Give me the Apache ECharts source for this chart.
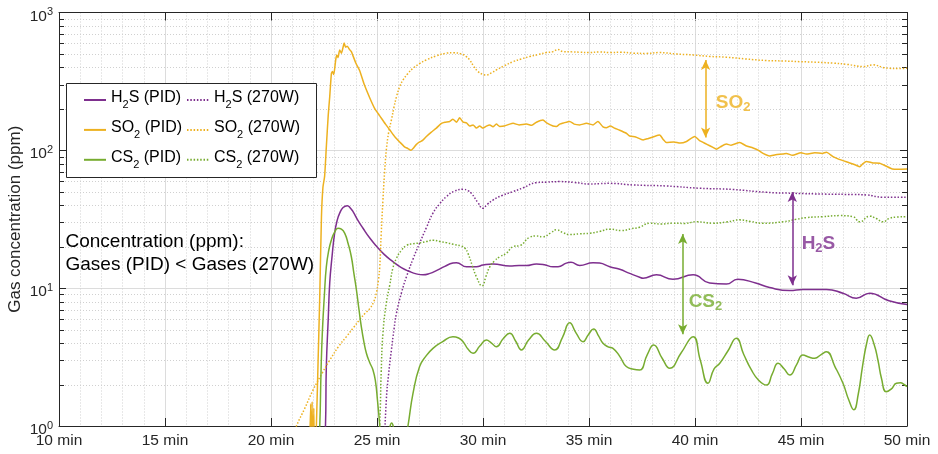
<!DOCTYPE html>
<html>
<head>
<meta charset="utf-8">
<script src="https://cdn.jsdelivr.net/npm/echarts@6/dist/echarts.min.js"></script>
<style>html,body{margin:0;padding:0;background:#fff}#c{width:938px;height:454px}</style>
</head>
<body>
<div id="c"></div>
<script>
// ---------- data (time in min, concentration in ppm) ----------
const so2Pid = [[21.80,0.5],[21.87,1.45],[21.90,0.5],[21.94,1.5],[21.97,0.5],[22.02,1.35],[22.05,0.5],
[22.14,1.0],[22.22,2.9],[22.30,8.7],[22.38,33],[22.45,54],[22.53,65],[22.61,106],[22.70,180],[22.77,245],[22.85,362],[22.90,373],[22.96,355],[23.05,450],[23.10,492],[23.16,470],[23.24,535],[23.32,507],[23.40,560],[23.45,600],[23.52,560],[23.60,570],[23.70,540],[23.79,520],[24.00,430],[24.18,380],[24.40,300],[24.66,240],[24.90,200],[25.13,178],[25.40,155],[25.60,141],[25.85,125],[26.07,115],[26.30,106],[26.46,103],[26.60,100],[26.70,103],[26.85,110],[27.01,115],[27.15,118],[27.33,126],[27.55,135],[27.80,145],[28.04,157],[28.20,160],[28.43,162],[28.58,168],[28.75,160],[28.90,172],[29.06,160],[29.22,158],[29.37,150],[29.53,153],[29.69,145],[29.84,150],[30.00,145],[30.16,150],[30.32,153],[30.47,148],[30.63,155],[30.79,149],[31.00,150],[31.26,155],[31.42,157],[31.70,153],[32.05,155],[32.30,152],[32.52,160],[32.83,166],[33.00,158],[33.30,150],[33.46,149],[33.62,155],[33.80,158],[34.09,162],[34.30,155],[34.56,153],[34.88,157],[35.19,153],[35.42,162],[35.66,148],[35.82,146],[36.00,150],[36.20,145],[36.45,140],[36.76,133],[36.92,127],[37.20,125],[37.55,119],[37.80,122],[38.02,125],[38.33,129],[38.50,120],[38.65,114],[39.00,115],[39.30,113],[39.60,116],[39.99,126],[40.20,118],[40.54,111],[40.85,105],[41.01,102],[41.20,106],[41.48,111],[41.70,109],[42.11,114],[42.40,108],[42.74,104],[43.00,100],[43.21,95],[43.52,91],[43.80,93],[44.15,94],[44.31,95],[44.60,92],[45.00,96],[45.25,94],[45.65,96],[46.00,95],[46.20,97],[46.35,94],[46.51,90],[46.80,86],[47.30,81],[47.60,78],[47.77,76],[47.92,80],[48.08,83],[48.40,81],[48.71,80.6],[49.00,77],[49.31,73.3],[49.60,73],[50.00,73.3]];

const so2W = [[21.00,0.8],[21.20,1.0],[21.60,1.35],[21.98,1.82],[22.40,2.4],[22.77,3.0],[23.20,3.8],[23.56,4.45],[23.90,5.2],[24.18,5.9],[24.45,6.6],[24.66,7.1],[24.85,8.0],[24.97,9.2],[25.07,11.5],[25.13,14.3],[25.20,25],[25.28,43.6],[25.36,70],[25.44,101],[25.55,135],[25.68,166],[25.80,205],[25.92,245],[26.07,290],[26.23,324],[26.45,360],[26.70,394],[27.00,425],[27.33,453],[27.80,485],[28.27,507],[28.60,510],[28.98,501],[29.20,480],[29.37,453],[29.55,410],[29.76,373],[30.00,355],[30.16,352],[30.40,365],[30.63,383],[31.00,410],[31.42,440],[31.80,460],[32.20,479],[32.60,495],[32.99,512],[33.30,520],[33.54,540],[33.77,520],[34.20,518],[34.56,515],[35.00,512],[35.50,518],[36.00,512],[36.50,515],[37.08,507],[37.70,505],[38.33,512],[39.10,500],[39.91,492],[40.70,480],[41.48,474],[42.40,460],[43.37,448],[44.15,445],[44.94,440],[45.70,436],[46.51,429],[47.20,420],[47.92,405],[48.40,417],[48.90,398],[49.15,394],[49.60,392],[50.00,394]];

const h2sPid = [[22.45,0.5],[22.57,1.0],[22.61,2.7],[22.70,6.0],[22.77,10.9],[22.88,17],[23.00,25],[23.12,31],[23.24,35],[23.40,38.5],[23.60,39.7],[23.75,38],[23.87,35.9],[24.10,31],[24.34,27.2],[24.65,23.2],[24.97,20.2],[25.35,17.5],[25.75,15.6],[26.15,14.1],[26.54,13.2],[26.85,12.7],[27.17,12.5],[27.50,12.8],[27.80,13.4],[28.20,14.4],[28.58,15.2],[28.75,15.3],[29.22,14.3],[29.69,14.3],[30.00,14.7],[30.47,15.0],[31.26,14.5],[31.70,14.6],[32.05,14.6],[32.52,15.0],[32.90,14.8],[33.30,14.3],[33.54,14.3],[33.93,15.2],[34.15,15.4],[34.56,14.6],[35.19,15.3],[35.50,15.2],[35.98,14.3],[36.45,13.7],[36.92,12.8],[37.39,12.0],[37.55,11.8],[38.18,12.5],[38.96,11.6],[39.91,12.5],[40.69,10.9],[41.48,10.7],[42.01,11.6],[42.86,10.9],[43.52,10.1],[44.47,9.6],[45.09,9.8],[46.20,9.8],[46.98,9.18],[47.61,8.45],[48.24,9.2],[49.15,8.1],[50.00,7.6]];

const h2sW = [[25.30,0.5],[25.44,1.55],[25.55,2.4],[25.68,3.56],[25.80,5.0],[25.92,6.6],[26.15,9.2],[26.39,12.1],[26.70,16.3],[27.01,21.2],[27.33,27.5],[27.64,35],[27.96,41],[28.27,46.1],[28.65,50.5],[29.06,52.2],[29.29,51],[29.45,48.8],[29.75,42],[30.00,38],[30.20,40.5],[30.47,43.6],[30.90,47],[31.42,50.2],[31.90,53.5],[32.52,58.3],[33.00,58.8],[33.62,59.3],[34.30,58.5],[35.03,57.0],[35.50,57.3],[35.98,57.6],[37.08,56.1],[38.65,55.1],[40.22,53.1],[41.79,52.0],[43.37,49.6],[44.62,48.8],[46.20,48.1],[47.50,47.8],[48.08,47.5],[48.87,45.7],[50.00,45.7]];

const cs2Pid = [[22.20,0.5],[22.30,1.0],[22.36,2.5],[22.42,4.7],[22.52,9],[22.61,14.3],[22.73,19],[22.85,22.4],[23.00,25.5],[23.16,27.2],[23.32,26.8],[23.48,25],[23.64,21],[23.79,16.9],[23.91,12.8],[24.03,9.7],[24.15,7.0],[24.26,5.26],[24.38,4.1],[24.50,3.37],[24.65,2.9],[24.81,2.55],[24.93,2.1],[25.02,1.55],[25.13,1.0],[25.22,0.6],[25.55,0.85],[25.62,1.0],[25.69,1.05],[25.76,1.0],[25.85,0.8],[26.20,0.6],[26.46,1.0],[26.70,1.73],[27.01,2.7],[27.30,3.2],[27.64,3.66],[28.10,4.1],[28.58,4.45],[28.85,4.35],[29.06,4.09],[29.30,3.6],[29.53,3.37],[29.85,3.8],[30.16,4.21],[30.40,4.0],[30.63,3.76],[30.95,4.3],[31.26,4.7],[31.55,4.1],[31.81,3.56],[32.15,4.2],[32.52,4.7],[32.95,4.1],[33.38,3.56],[33.75,4.4],[34.09,5.6],[34.40,4.7],[34.72,4.09],[34.97,4.6],[35.22,5.06],[35.45,4.5],[35.66,3.98],[35.90,3.75],[36.13,3.66],[36.45,3.2],[36.76,2.7],[37.10,2.58],[37.39,2.55],[37.75,3.3],[38.05,3.87],[38.45,3.1],[38.81,2.62],[39.35,3.4],[39.91,4.45],[40.25,3.0],[40.61,2.04],[40.90,2.6],[41.17,2.85],[41.55,3.5],[41.95,4.33],[42.30,3.3],[42.66,2.55],[43.00,2.15],[43.37,1.98],[43.65,2.4],[43.92,2.85],[44.20,2.6],[44.47,2.34],[44.80,2.8],[45.09,3.27],[45.40,3.15],[45.65,3.1],[45.95,3.3],[46.20,3.46],[46.60,2.7],[46.98,2.04],[47.25,1.55],[47.49,1.31],[47.70,1.7],[47.90,2.7],[48.10,4.0],[48.24,4.57],[48.45,3.9],[48.63,3.0],[48.80,2.2],[49.02,1.77],[49.25,1.85],[49.50,2.04],[49.70,2.06],[49.86,2.0],[50.00,1.93]];

const cs2W = [[25.00,0.5],[25.13,1.05],[25.20,2.5],[25.28,4.7],[25.44,7.8],[25.60,10.5],[25.75,14.0],[25.92,16.5],[26.15,18.8],[26.39,20.4],[26.70,21.0],[27.01,21.3],[27.33,21.8],[27.64,22.3],[27.96,21.8],[28.27,21.4],[28.60,20.8],[28.98,20.2],[29.15,19.5],[29.29,17.9],[29.50,14.5],[29.69,12.1],[29.95,10.4],[30.15,12.3],[30.32,14.3],[30.55,15.8],[30.79,16.9],[31.10,17.9],[31.42,20.0],[31.75,20.4],[32.20,23.4],[32.52,23.9],[32.83,23.6],[33.20,25.2],[33.46,26.5],[33.75,25.4],[34.09,24.5],[34.56,24.8],[35.03,25.0],[35.50,25.8],[35.98,26.8],[36.53,26.2],[37.00,27.0],[37.39,27.7],[37.86,29.6],[38.40,29.2],[38.96,29.6],[39.50,29.5],[40.07,30.3],[40.85,29.6],[41.50,30.2],[42.11,31.3],[42.60,30.5],[43.21,29.6],[44.15,30.3],[44.78,31.6],[45.25,32.5],[46.00,33.0],[46.83,33.6],[47.45,33.0],[47.77,30.3],[48.24,33.3],[48.55,32.0],[48.87,30.3],[49.15,32.0],[49.50,32.8],[50.00,33.0]];

// annotation arrows (time, tip values) and labels
const gasNames   = ['SO2', 'H2S', 'CS2'];
const arrowT     = [40.5, 44.59, 39.42];
const arrowTop   = [453, 49.9, 24.7];
const arrowBot   = [124, 10.5, 4.63];
const labelT     = [40.98, 45.03, 39.7];
const labelV     = [221, 20.9, 7.94];

// axis
const xMin = 10, xMax = 50, xStep = 5;
const xUnit = ' min';
const yMin = 1, yMax = 1000;
const yMinorMantissa = [2,3,4,5,6,7,8,9];
const yDecades = [1,10,100];
const noteLines = ['Concentration (ppm):', 'Gases (PID) < Gases (270W)'];

// ---------- style ----------
const FONT = '"Liberation Sans", Arial, Helvetica, sans-serif';
const C_ORANGE = '#EDB120', C_PURPLE = '#7E2F8E', C_GREEN = '#77AC30';
const AX = '#262626';

const yMinor = [];
yDecades.forEach(d => yMinorMantissa.forEach(m => yMinor.push(m * d)));

function sub(name) {
  const m = name.match(/^([A-Z]+)2(.*)$/);
  return '{n|' + m[1] + '}{s|2}{n|' + m[2] + '}';
}

function lineSeries(name, data, color, dotted, smooth, arrowIdx) {
  const s = {
    name, type: 'line', data, xAxisIndex: 0, yAxisIndex: 0,
    symbol: 'none', showSymbol: false, smooth, clip: true,
    lineStyle: { color, width: 1.5, type: dotted ? [1.5, 1.8] : 'solid', cap: 'butt', join: 'round' },
    itemStyle: { color }, emphasis: { disabled: true }, z: 2, animation: false
  };
  if (arrowIdx != null) {
    s.markLine = {
      silent: true, animation: false, symbol: ['arrow', 'arrow'], symbolSize: [7, 10],
      label: { show: false }, emphasis: { disabled: true },
      lineStyle: { color, width: 1.5, type: 'solid' },
      data: [[{ coord: [arrowT[arrowIdx], arrowTop[arrowIdx]] }, { coord: [arrowT[arrowIdx], arrowBot[arrowIdx]] }]]
    };
  }
  return s;
}

const legendRich = {
  n: { fontSize: 16, fontFamily: FONT, color: '#000', verticalAlign: 'top' },
  s: { fontSize: 11, fontFamily: FONT, color: '#000', padding: [10, 0, 0, 0] }
};
function legendCfg(left, names) {
  return {
    orient: 'vertical', left, top: 89.5, padding: 0, itemGap: 8.9,
    itemWidth: 22, itemHeight: 14, data: names, selectedMode: false,
    itemStyle: { opacity: 0 },
    formatter: sub, textStyle: { fontSize: 16, fontFamily: FONT, color: '#000', rich: legendRich }
  };
}

const annotColors = [C_ORANGE, C_PURPLE, C_GREEN];
const annotData = gasNames.map((g, i) => ({
  value: [labelT[i], labelV[i]],
  label: {
    formatter: sub(g),
    rich: {
      n: { fontSize: 19, fontWeight: 'bold', fontFamily: FONT, color: annotColors[i] },
      s: { fontSize: 13, fontWeight: 'bold', fontFamily: FONT, color: annotColors[i], padding: [9, 0, 0, 0] }
    }
  }
}));

const chart = echarts.init(document.getElementById('c'), null, { renderer: 'canvas' });
const option = {
  animation: false,
  backgroundColor: '#fff',
  grid: { left: 59, right: 31, top: 12.5, bottom: 28, containLabel: false, outerBoundsMode: 'none' },
  xAxis: [{
    type: 'value', min: xMin, max: xMax, interval: xStep, position: 'bottom',
    axisLine: { show: true, onZero: false, lineStyle: { color: AX, width: 1 } },
    axisTick: { show: true, inside: true, length: 8, lineStyle: { color: AX } },
    axisLabel: { formatter: v => v + xUnit, color: AX, fontSize: 15.5, fontFamily: FONT, margin: 7 },
    splitLine: { show: true, lineStyle: { color: '#dcdcdc', width: 1 } },
    minorTick: { show: false, splitNumber: 5 },
    minorSplitLine: { show: true, lineStyle: { color: '#d0d0d0', width: 1, type: [1, 2] } }
  }, {
    type: 'value', min: xMin, max: xMax, interval: xStep, position: 'top',
    axisLine: { show: true, onZero: false, lineStyle: { color: AX, width: 1 } },
    axisTick: { show: true, inside: true, length: 8, lineStyle: { color: AX } },
    axisLabel: { show: false }, splitLine: { show: false }
  }],
  yAxis: [{
    type: 'log', logBase: 10, min: yMin, max: yMax, position: 'left',
    name: 'Gas concentration (ppm)', nameLocation: 'middle', nameGap: 35, nameRotate: 90,
    nameMoveOverlap: false,
    nameTextStyle: { fontSize: 17, fontFamily: FONT, color: AX },
    axisLine: { show: true, onZero: false, lineStyle: { color: AX, width: 1 } },
    axisTick: { show: true, inside: true, length: 7, lineStyle: { color: AX } },
    axisLabel: {
      margin: 6, color: AX, padding: [6, 0, 0, 0],
      formatter: v => '{b|10}{e|' + Math.round(Math.log10(v)) + '}',
      rich: {
        b: { fontSize: 15.5, fontFamily: FONT, color: AX, verticalAlign: 'bottom' },
        e: { fontSize: 11, fontFamily: FONT, color: AX, padding: [0, 0, 6.5, 0] }
      }
    },
    splitLine: { show: true, lineStyle: { color: '#dcdcdc', width: 1 } }
  }, {
    type: 'log', logBase: 10, min: yMin, max: yMax, position: 'right',
    axisLine: { show: true, onZero: false, lineStyle: { color: AX, width: 1 } },
    axisTick: { show: true, inside: true, length: 7, lineStyle: { color: AX } },
    axisLabel: { show: false }, splitLine: { show: false }
  }],
  legend: [
    legendCfg(83, ['H2S (PID)', 'SO2 (PID)', 'CS2 (PID)']),
    legendCfg(186, ['H2S (270W)', 'SO2 (270W)', 'CS2 (270W)'])
  ],
  graphic: [
    { type: 'rect', z: 3, shape: { x: 66.5, y: 83.5, width: 250, height: 94 },
      style: { fill: '#fff', stroke: AX, lineWidth: 1 } },
    { type: 'text', z: 3, left: 65.5, top: 230,
      style: { text: noteLines.join('\n'), fontSize: 19, fontFamily: FONT, fill: '#000', lineHeight: 23.3 } }
  ],
  series: [
    {
      type: 'custom', name: 'minorY', silent: true, z: 1, animation: false,
      data: yMinor.map(v => [xMin, v]),
      renderItem: (params, api) => {
        const v = api.value(1);
        const p0 = api.coord([xMin, v]);
        const p1 = api.coord([xMax, v]);
        const y = Math.round(p0[1]) + 0.5;
        return { type: 'group', children: [
          { type: 'line', shape: { x1: p0[0], y1: y, x2: p1[0], y2: y }, style: { stroke: '#d0d0d0', lineWidth: 1, lineDash: [1, 2] } },
          { type: 'line', shape: { x1: p0[0], y1: y, x2: p0[0] + 5, y2: y }, style: { stroke: AX, lineWidth: 1 } },
          { type: 'line', shape: { x1: p1[0] - 5, y1: y, x2: p1[0], y2: y }, style: { stroke: AX, lineWidth: 1 } }
        ] };
      }
    },
    lineSeries('H2S (PID)', h2sPid, C_PURPLE, false, 0.5, 1),
    lineSeries('H2S (270W)', h2sW, C_PURPLE, true, 0.5),
    lineSeries('SO2 (PID)', so2Pid, C_ORANGE, false, 0.2, 0),
    lineSeries('SO2 (270W)', so2W, C_ORANGE, true, 0.4),
    lineSeries('CS2 (PID)', cs2Pid, C_GREEN, false, true, 2),
    lineSeries('CS2 (270W)', cs2W, C_GREEN, true, 0.5),
    {
      type: 'scatter', name: 'labels', silent: true, symbolSize: 0, z: 5, animation: false,
      data: annotData,
      label: { show: true, position: 'right', distance: 0 }
    }
  ]
};
chart.setOption(option);
</script>
</body>
</html>
